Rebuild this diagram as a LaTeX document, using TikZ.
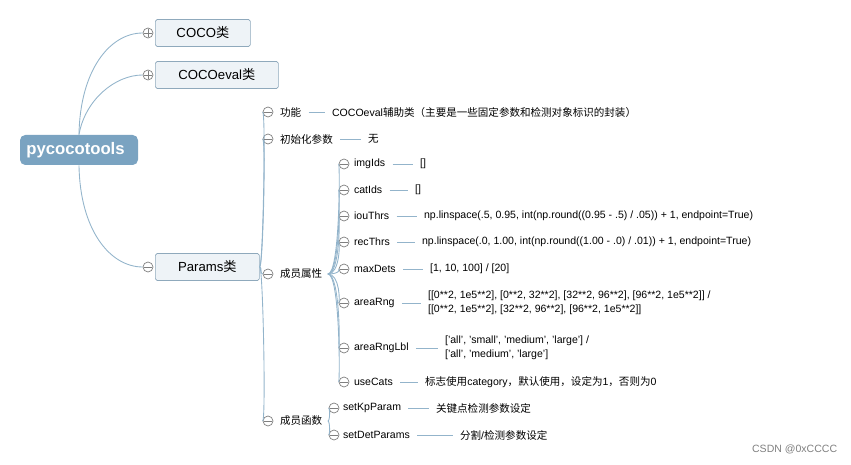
\documentclass[tikz,border=0pt]{standalone}
\usepackage{fontspec}
\setmainfont{Liberation Sans}
\newfontfamily\cjk{Noto Sans CJK SC}
\definecolor{lnk}{HTML}{93B4CB}
\definecolor{rootc}{HTML}{7AA3C1}
\definecolor{boxc}{HTML}{EEF3F7}
\tikzset{
  rootnode/.style={fill=rootc, rounded corners=3pt, text=white, font=\fontsize{9.5}{10}\selectfont\bfseries, minimum width=118*0.02cm, minimum height=30*0.02cm, inner sep=0},
  classnode/.style={draw=lnk!80!gray, fill=boxc, rounded corners=1pt, font=\fontsize{7.5}{9}\selectfont, minimum height=27*0.02cm, inner sep=0, anchor=west},
  leaf/.style={font=\fontsize{6}{8}\selectfont, anchor=west, inner sep=1pt, align=left},
  tog/.style={circle, draw=gray, fill=white, minimum size=10*0.02cm, inner sep=0},
  link/.style={draw=lnk, line width=0.5pt},
  sep/.style={link, shorten <=3pt, shorten >=3pt}
}
\newcommand{\minus}[1]{\draw[gray] ([xshift=-2.5pt]#1.center) -- ([xshift=2.5pt]#1.center);}
\newcommand{\plus}[1]{\minus{#1}\draw[gray] ([yshift=-2.5pt]#1.center) -- ([yshift=2.5pt]#1.center);}
\begin{document}
\begin{tikzpicture}[x=0.02cm, y=-0.02cm]
\useasboundingbox (0,0) rectangle (851,465);
% root and classes
\node[rootnode] (root) at (79,150) {pycocotools\hspace*{4pt}};
\node[classnode, minimum width=95*0.02cm] (coco) at (155,33) {COCO{\cjk 类}};
\node[classnode, minimum width=123*0.02cm] (cocoeval) at (155,75) {COCOeval{\cjk 类}};
\node[classnode, minimum width=104*0.02cm] (params) at (155,267) {Params{\cjk 类}};
\foreach \n/\y in {tc/33, tce/75, tp/267}
  \node[tog] (\n) at (148,\y) {};
\draw[link] (root.north) .. controls (80,70) and (110,33) .. (tc.west);
\draw[link] (root.north) .. controls (85,100) and (115,75) .. (tce.west);
\draw[link] (root.south) .. controls (80,230) and (110,267) .. (tp.west);
\plus{tc} \plus{tce} \minus{tp}
% level 2
\foreach \n/\y in {g1/112, g2/139, g3/274, g4/421}
  \node[tog] (\n) at (268,\y) {};
\foreach \n/\y in {g1/112, g2/139, g4/421}
  \draw[link] (params.east) .. controls (263,266) and (266,\y) .. (\n);
\draw[link] (params.east) .. controls (262,267) and (260,274) .. (g3.west);
\foreach \n in {g1,g2,g3,g4} {\minus{\n}}
\node[leaf] (fn) at (278,112) {\cjk 功能};
\node[leaf] (fnv) at (330,112) {COCOeval{\cjk 辅助类（主要是一些固定参数和检测对象标识的封装）}};
\draw[sep] (fn.east) -- (fnv.west);
\node[leaf] (ini) at (278,139) {\cjk 初始化参数};
\node[leaf] (iniv) at (366,139) {\cjk 无};
\draw[sep] (ini.east) -- (iniv.west);
\node[leaf] (attr) at (278,274) {\cjk 成员属性};
\node[leaf] (meth) at (278,421) {\cjk 成员函数};
% attributes
\foreach \n/\y in {a1/164, a2/190, a3/216, a4/242, a5/269, a6/303, a7/348, a8/382}
  \node[tog] (\n) at (344,\y) {};
\foreach \n/\y in {a1/164, a2/190, a3/216, a4/242, a5/269, a6/303, a7/348, a8/382}
  \draw[link] ([xshift=2pt]attr.east) .. controls (340,274) and (340,\y) .. (\n);
\foreach \n in {a1,a2,a3,a4,a5,a6,a7,a8} {\minus{\n}}
\node[leaf] (imgids) at (352,164) {imgIds};
\node[leaf] (imgidsv) at (418,164) {[]};
\node[leaf] (catids) at (352,190) {catIds};
\node[leaf] (catidsv) at (413,190) {[]};
\node[leaf] (iou) at (352,216) {iouThrs};
\node[leaf] (iouv) at (422,216) {np.linspace(.5, 0.95, int(np.round((0.95 - .5) / .05)) + 1, endpoint=True)};
\node[leaf] (rec) at (352,242) {recThrs};
\node[leaf] (recv) at (420,242) {np.linspace(.0, 1.00, int(np.round((1.00 - .0) / .01)) + 1, endpoint=True)};
\node[leaf] (maxd) at (352,269) {maxDets};
\node[leaf] (maxdv) at (428,269) {[1, 10, 100] / [20]};
\node[leaf] (arng) at (352,303) {areaRng};
\node[leaf] (arngv) at (426,303) {[[0**2, 1e5**2], [0**2, 32**2], [32**2, 96**2], [96**2, 1e5**2]] /\\{}[[0**2, 1e5**2], [32**2, 96**2], [96**2, 1e5**2]]};
\node[leaf] (albl) at (352,348) {areaRngLbl};
\node[leaf] (alblv) at (443,348) {['all', 'small', 'medium', 'large'] /\\{}['all', 'medium', 'large']};
\node[leaf] (ucat) at (352,382) {useCats};
\node[leaf] (ucatv) at (423,382) {{\cjk 标志使用}category{\cjk ，默认使用，设定为}1{\cjk ，否则为}0};
\foreach \a/\b in {imgids/imgidsv, catids/catidsv, iou/iouv, rec/recv, maxd/maxdv, arng/arngv, albl/alblv, ucat/ucatv}
  \draw[sep] (\a.east) -- (\b.west);
% methods
\foreach \n/\y in {m1/408, m2/435}
  \node[tog] (\n) at (334,\y) {};
\foreach \n/\y in {m1/408, m2/435}
  \draw[link] ([xshift=2pt]meth.east) .. controls (330,421) and (330,\y) .. (\n);
\minus{m1} \minus{m2}
\node[leaf] (kp) at (341,408) {setKpParam};
\node[leaf] (kpv) at (434,408) {\cjk 关键点检测参数设定};
\node[leaf] (det) at (341,435) {setDetParams};
\node[leaf] (detv) at (458,435) {{\cjk 分割}/{\cjk 检测参数设定}};
\draw[sep] (kp.east) -- (kpv.west);
\draw[sep] (det.east) -- (detv.west);
\node[leaf, text=gray] (mark) at (750,449) {CSDN @0xCCCC};
\end{tikzpicture}
\end{document}
